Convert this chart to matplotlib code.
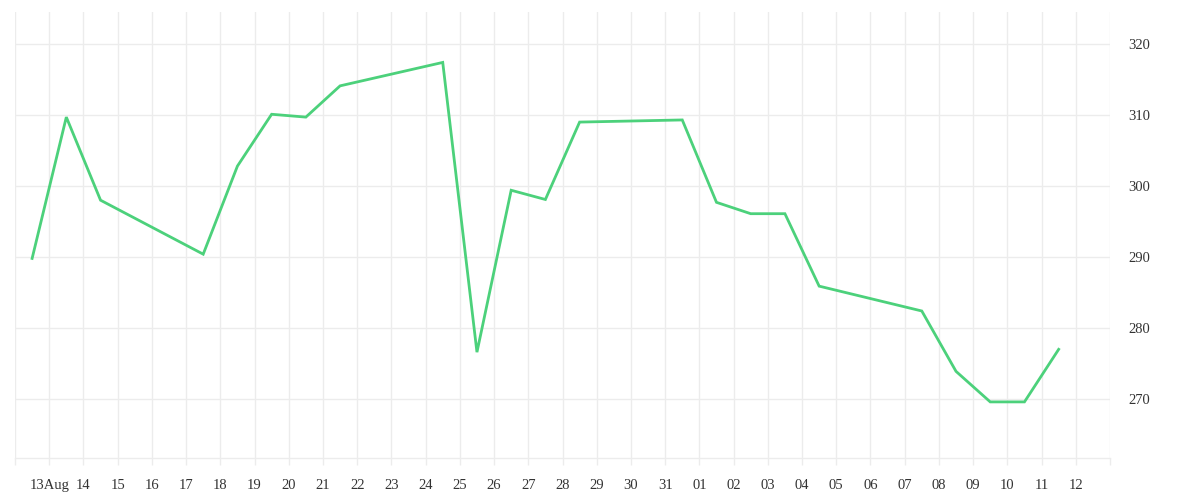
import matplotlib
matplotlib.use("Agg")
import matplotlib.pyplot as plt
import pandas as pd

# ---- data ----
dates = ["2020-08-12 12:00", "2020-08-13 12:00", "2020-08-14 12:00", "2020-08-17 12:00",
         "2020-08-18 12:00", "2020-08-19 12:00", "2020-08-20 12:00", "2020-08-21 12:00",
         "2020-08-24 12:00", "2020-08-25 12:00", "2020-08-26 12:00", "2020-08-27 12:00",
         "2020-08-28 12:00", "2020-08-31 12:00", "2020-09-01 12:00", "2020-09-02 12:00",
         "2020-09-03 12:00", "2020-09-04 12:00", "2020-09-07 12:00", "2020-09-08 12:00",
         "2020-09-09 12:00", "2020-09-10 12:00", "2020-09-11 12:00"]
values = [289.8, 309.7, 298.0, 290.4, 302.8, 310.1, 309.7, 314.1,
          317.4, 276.6, 299.4, 298.1, 309.0, 309.3, 297.7, 296.1,
          296.1, 285.9, 282.4, 273.9, 269.6, 269.6, 277.0]
tick_dates = pd.date_range("2020-08-12", "2020-09-13", freq="D")
tick_labels = [""] + ["13Aug", "14", "15", "16", "17", "18", "19", "20", "21", "22", "23", "24",
                      "25", "26", "27", "28", "29", "30", "31", "01", "02", "03", "04", "05",
                      "06", "07", "08", "09", "10", "11", "12"] + [""]
y_ticks = [270, 280, 290, 300, 310, 320]

x = pd.to_datetime(dates)

fig = plt.figure(figsize=(12, 5), dpi=100)
ax = fig.add_axes([0.0125, 0.084, 0.9125, 0.892])

grid_c = "#ececec"
ax.plot(x, values, color="#4cd17b", linewidth=2.0, solid_joinstyle="miter", zorder=3)

ax.set_xlim(tick_dates[0], tick_dates[-1])
ax.set_ylim(261.7, 324.5)

ax.set_xticks(tick_dates)
ax.set_xticklabels(tick_labels)
ax.set_yticks(y_ticks)
ax.set_yticklabels([str(v) for v in y_ticks])

ax.yaxis.tick_right()
ax.grid(True, color=grid_c, linewidth=1.0, zorder=0)

for s in ["top", "left", "right"]:
    ax.spines[s].set_visible(False)
ax.spines["bottom"].set_color(grid_c)
ax.spines["bottom"].set_linewidth(1.0)

ax.tick_params(axis="x", length=5, color=grid_c, width=1.0, pad=10,
               labelsize=10.5, labelcolor="#333333")
ax.tick_params(axis="y", length=0, pad=13, labelsize=10.5, labelcolor="#333333")
for lab in ax.get_xticklabels() + ax.get_yticklabels():
    lab.set_fontfamily("Liberation Serif")

fig.savefig("out.png", dpi=100, facecolor="white")
